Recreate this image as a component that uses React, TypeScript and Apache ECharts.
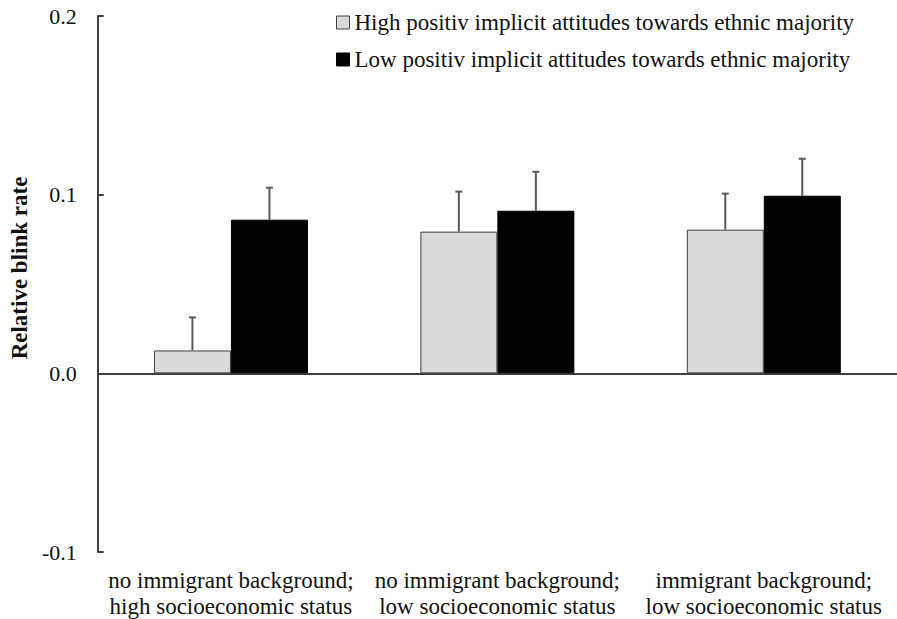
import React, { useEffect, useRef } from "react";
import * as echarts from "echarts";

const categories = [
  "no immigrant background;\nhigh socioeconomic status",
  "no immigrant background;\nlow socioeconomic status",
  "immigrant background;\nlow socioeconomic status",
];
const seriesNames = [
  "High positiv implicit attitudes towards ethnic majority",
  "Low positiv implicit attitudes towards ethnic majority",
];
const highValues = [0.0128, 0.0793, 0.0804];
const highErrors = [0.0185, 0.0224, 0.0202];
const lowValues = [0.086, 0.091, 0.0994];
const lowErrors = [0.0179, 0.0218, 0.0207];
const yTicks = [-0.1, 0.0, 0.1, 0.2];

const FONT = "Liberation Serif";
const FS = 23;
const BAR_W = 77;

function errorSeries(values: number[], errors: number[], offset: number) {
  return {
    type: "custom",
    xAxisIndex: 0,
    yAxisIndex: 0,
    silent: true,
    z: 1,
    data: values.map((v, i) => [i, v, v + errors[i]]),
    renderItem: (_params: any, api: any) => {
      const i = api.value(0);
      const base = api.coord([i, api.value(1)]);
      const top = api.coord([i, api.value(2)]);
      const x = base[0] + offset;
      const style = { stroke: "#5a5a5a", lineWidth: 2 };
      return {
        type: "group",
        children: [
          { type: "line", shape: { x1: x, y1: base[1], x2: x, y2: top[1] }, style },
          { type: "line", shape: { x1: x - 3.5, y1: top[1], x2: x + 3.5, y2: top[1] }, style },
        ],
      };
    },
  };
}

export default function App() {
  const ref = useRef<HTMLDivElement>(null);
  useEffect(() => {
    if (!ref.current) return;
    const chart = echarts.init(ref.current, undefined, { renderer: "svg" });
    chart.setOption({
      animation: false,
      backgroundColor: "#ffffff",
      textStyle: { fontFamily: FONT },
      grid: { left: 97, right: -4, top: 16, bottom: 67, containLabel: false },
      legend: {
        orient: "vertical",
        left: 331,
        top: 6,
        itemWidth: 13,
        itemHeight: 13,
        itemGap: 14,
        textStyle: { fontFamily: FONT, fontSize: FS, color: "#111" },
        data: [
          { name: seriesNames[0], icon: "rect", itemStyle: { color: "#d9d9d9", borderColor: "#404040", borderWidth: 1 } },
          { name: seriesNames[1], icon: "rect", itemStyle: { color: "#000000", borderColor: "#000", borderWidth: 1 } },
        ],
      },
      xAxis: [
        {
          type: "category",
          data: categories,
          axisLine: { onZero: true, lineStyle: { color: "#404040", width: 2 } },
          axisTick: { show: false },
          axisLabel: { show: false },
          splitLine: { show: false },
        },
        {
          type: "category",
          data: categories,
          position: "bottom",
          axisLine: { show: false, onZero: false },
          axisTick: { show: false },
          splitLine: { show: false },
          axisLabel: {
            interval: 0,
            margin: 15,
            fontFamily: FONT,
            fontSize: FS,
            lineHeight: 26,
            color: "#111",
          },
        },
      ],
      yAxis: {
        type: "value",
        min: -0.1,
        max: 0.2,
        interval: 0.1,
        name: "Relative blink rate",
        nameLocation: "middle",
        nameGap: 66,
        nameTextStyle: {
          fontFamily: FONT,
          fontSize: FS,
          fontWeight: "bold",
          color: "#111",
          padding: [0, 0, 0, 32],
        },
        axisLine: { show: true, lineStyle: { color: "#404040", width: 2 } },
        axisTick: { show: true, inside: true, length: 6, lineStyle: { color: "#404040", width: 2 } },
        splitLine: { show: false },
        axisLabel: {
          margin: 21,
          fontFamily: FONT,
          fontSize: 22,
          color: "#111",
          formatter: (v: number) => {
            const t = yTicks.find((k) => Math.abs(k - v) < 1e-9);
            return (t !== undefined ? t : v).toFixed(1);
          },
        },
      },
      series: [
        {
          name: seriesNames[0],
          type: "bar",
          data: highValues,
          barWidth: BAR_W,
          barGap: "0%",
          itemStyle: { color: "#d9d9d9", borderColor: "#404040", borderWidth: 1 },
          z: 2,
        },
        {
          name: seriesNames[1],
          type: "bar",
          data: lowValues,
          barWidth: BAR_W,
          barGap: "0%",
          itemStyle: { color: "#000000", borderColor: "#000", borderWidth: 1 },
          z: 2,
        },
        errorSeries(highValues, highErrors, -BAR_W / 2),
        errorSeries(lowValues, lowErrors, BAR_W / 2),
      ],
    });
    return () => chart.dispose();
  }, []);
  return (
    <div
      ref={ref}
      style={{ position: "absolute", left: 0, top: 0, width: 897, height: 619, background: "#fff" }}
    />
  );
}
